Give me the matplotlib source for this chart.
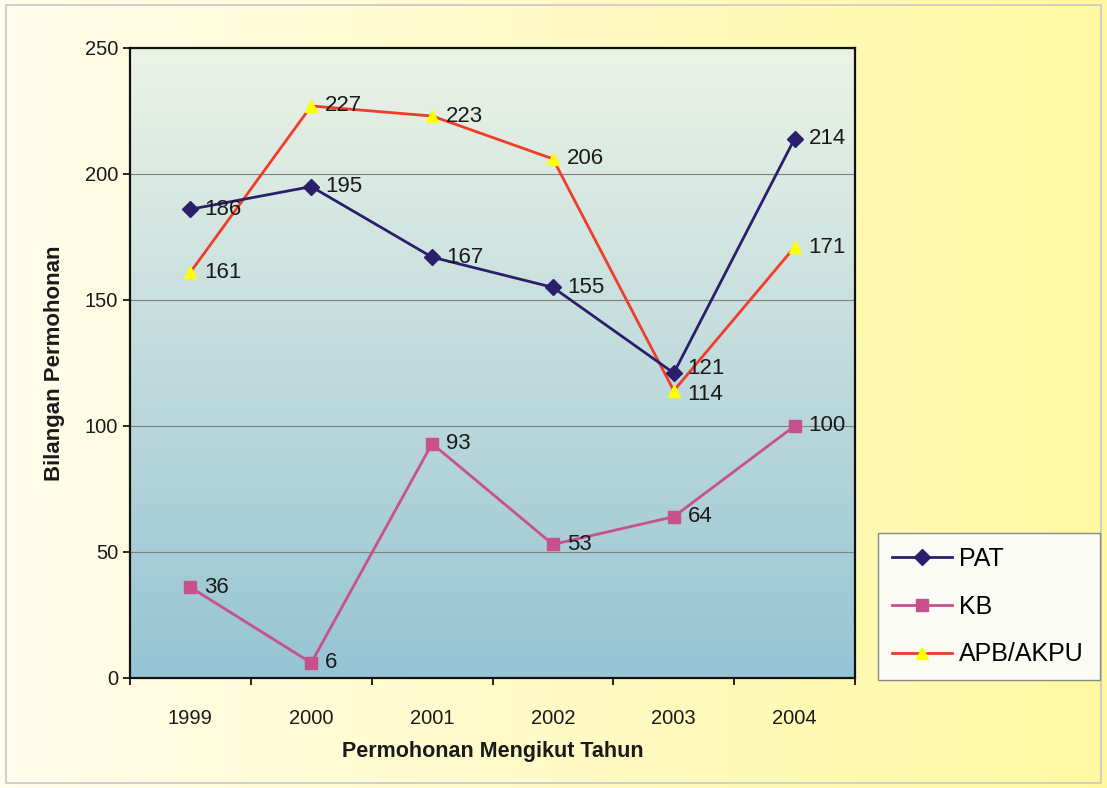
import numpy as np
import matplotlib
matplotlib.use("Agg")
import matplotlib.pyplot as plt
from matplotlib.patches import Rectangle
from matplotlib.lines import Line2D

plt.rcParams['font.family'] = ['Liberation Sans', 'DejaVu Sans']

years = ["1999", "2000", "2001", "2002", "2003", "2004"]
pat = [186, 195, 167, 155, 121, 214]
kb = [36, 6, 93, 53, 64, 100]
apb = [161, 227, 223, 206, 114, 171]
series_names = ["PAT", "KB", "APB/AKPU"]

fig = plt.figure(figsize=(11.07, 7.88), dpi=100)

# figure background gradient (cream -> yellow)
bg = fig.add_axes([0, 0, 1, 1], zorder=-10)
w = np.linspace(0, 1, 300)
c0 = np.array([255, 253, 236]) / 255
c1 = np.array([255, 248, 160]) / 255
img = c0[None, None, :] * (1 - w[None, :, None]) + c1[None, None, :] * w[None, :, None]
img = np.repeat(img, 2, axis=0)
bg.imshow(img, aspect='auto', extent=[0, 1, 0, 1])
bg.add_patch(Rectangle((0.005, 0.006), 0.99, 0.988, fill=False, ec='#c8c8c8', lw=1.2))
bg.set_xlim(0, 1); bg.set_ylim(0, 1)
bg.axis('off')

ax = fig.add_axes([0.1174, 0.1396, 0.655, 0.7995])
x = np.arange(len(years))

# plot area gradient
h = np.linspace(0, 1, 300)
top = np.array([236, 243, 230]) / 255
bot = np.array([150, 196, 212]) / 255
gimg = top[None, None, :] * (1 - h[:, None, None]) + bot[None, None, :] * h[:, None, None]
gimg = np.repeat(gimg, 2, axis=1)
ax.imshow(gimg, aspect='auto', extent=[-0.5, 5.5, 0, 250], zorder=0)

ax.set_xlim(-0.5, 5.5)
ax.set_ylim(0, 250)
ax.set_yticks([0, 50, 100, 150, 200, 250])
ax.grid(axis='y', color='#808080', lw=0.8, zorder=1)

ax.plot(x, pat, color='#2B1F6B', lw=2, marker='D', ms=8, mfc='#2B1F6B', mec='#2B1F6B', zorder=4)
ax.plot(x, kb, color='#C8508C', lw=2, marker='s', ms=9, mfc='#C8508C', mec='#C8508C', zorder=3)
ax.plot(x, apb, color='#F03C28', lw=2, marker='^', ms=9, mfc='#FFFF00', mec='#FFFF00', zorder=3)

for data, dy in ((pat, {4: 3}), (kb, {}), (apb, {4: -3})):
    for i, v in enumerate(data):
        ax.annotate(str(v), (x[i], v), xytext=(10, dy.get(i, 0)), textcoords='offset points',
                    va='center', ha='left', fontsize=16, color='#1a1a1a', zorder=6)

ax.set_xticks(x)
ax.set_xticklabels(years, fontsize=14.5, color='#1a1a1a')
ax.set_xticks(np.arange(-0.5, 6.0, 1.0), minor=True)
ax.tick_params(axis='x', which='major', length=0, pad=22)
ax.tick_params(axis='x', which='minor', length=5, width=1.2, direction='out')
ax.tick_params(axis='y', length=5, width=1.2, direction='out', labelsize=14.5, labelcolor='#1a1a1a')
for s in ax.spines.values():
    s.set_linewidth(1.6)
    s.set_color('#111111')

ax.set_xlabel("Permohonan Mengikut Tahun", fontsize=15.5, fontweight='bold', labelpad=10, color='#1a1a1a')
ax.set_ylabel("Bilangan Permohonan", fontsize=16, fontweight='bold', labelpad=14, color='#1a1a1a')

handles = [
    Line2D([], [], color='#2B1F6B', lw=2, marker='D', ms=8, mfc='#2B1F6B', mec='#2B1F6B'),
    Line2D([], [], color='#C8508C', lw=2, marker='s', ms=9, mfc='#C8508C', mec='#C8508C'),
    Line2D([], [], color='#F03C28', lw=2, marker='^', ms=9, mfc='#FFFF00', mec='#FFFF00'),
]
leg = fig.legend(handles, series_names, loc='lower left', bbox_to_anchor=(0.793, 0.137, 0.2005, 0.194),
                 mode='expand', fontsize=18, frameon=True, fancybox=False, handlelength=2.4,
                 labelspacing=0.95, borderpad=0.55, handletextpad=0.3, framealpha=1.0,
                 borderaxespad=0)
leg.get_frame().set_edgecolor('#888888')
leg.get_frame().set_facecolor('#fbfbf6')
leg.get_frame().set_linewidth(1.0)

fig.savefig("out.png", dpi=100)
